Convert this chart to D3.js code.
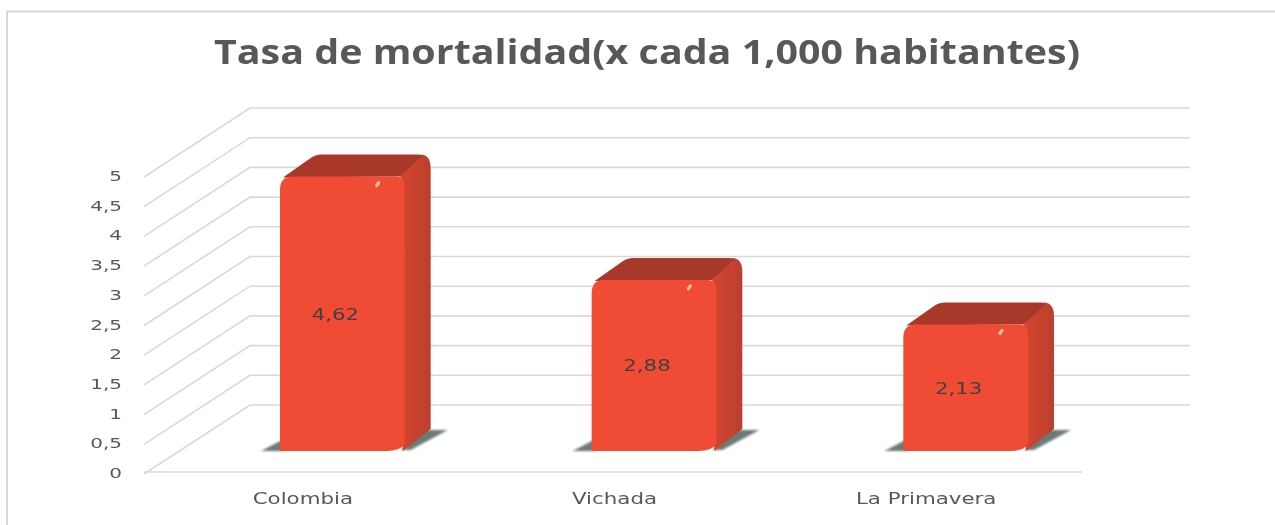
<!DOCTYPE html>
<html><head><meta charset="utf-8">
<script src="https://cdnjs.cloudflare.com/ajax/libs/d3/7.8.5/d3.min.js"></script>
<style>html,body{margin:0;background:#fff}svg{display:block}</style></head><body>
<svg id="c" width="1275" height="525"></svg>
<script>
const categories=["Colombia","Vichada","La Primavera"];
const values=[4.62,2.88,2.13];
const valueLabels=["4,62","2,88","2,13"];
const yTicks=[0,0.5,1,1.5,2,2.5,3,3.5,4,4.5,5];
const yTickLabels=["0","0,5","1","1,5","2","2,5","3","3,5","4","4,5","5"];
const titleText="Tasa de mortalidad(x cada 1,000 habitantes)";

const svg=d3.select("#c");
const F="'DejaVu Sans',sans-serif";
const y=d3.scaleLinear().domain([0,5]).range([472,175]);
const x=d3.scaleBand().domain(categories).range([147,1082]);
const depth={dx:103,dy:-67}, barOff={dx:39.5,dy:-21}, barSide={dx:26,dy:-22};
const barW=x.bandwidth()*0.4, r=13, wide=1.38;

const defs=svg.append("defs");
defs.append("filter").attr("id","soft").append("feGaussianBlur").attr("stdDeviation",1.2);
defs.append("filter").attr("id","soft2").append("feGaussianBlur").attr("stdDeviation",0.6);
const sg=defs.append("linearGradient").attr("id","side").attr("x1",0).attr("x2",1).attr("y1",0).attr("y2",0);
sg.append("stop").attr("offset",0).attr("stop-color","#d2452f");
sg.append("stop").attr("offset",1).attr("stop-color","#bb402d");

const root=svg.append("g").attr("filter","url(#soft2)");
root.append("path").attr("d","M7,525V11.5H1280").attr("fill","none").attr("stroke","#d6d6d6").attr("stroke-width",2);

const grid=root.append("g").attr("fill","none").attr("stroke","#d9d9d9").attr("stroke-width",1.6);
grid.selectAll("path").data(yTicks).join("path")
  .attr("d",d=>`M144,${y(d)+2}L${147+depth.dx},${y(d)+depth.dy}H1190`);
grid.append("path").attr("d",`M144,${y(0)}H1082`);

root.append("g").selectAll("text").data(yTicks).join("text")
  .attr("transform",d=>`translate(122,${y(d)+6}) scale(${wide},1)`).attr("text-anchor","end")
  .attr("font-family",F).attr("font-size",14.5).attr("fill","#595959")
  .text((d,i)=>yTickLabels[i]);

root.append("g").selectAll("text").data(categories).join("text")
  .attr("transform",d=>`translate(${x(d)+x.bandwidth()/2},504) scale(${wide},1)`).attr("text-anchor","middle")
  .attr("font-family",F).attr("font-size",15.5).attr("fill","#595959").text(d=>d);

const bars=root.append("g").selectAll("g").data(categories.map((c,i)=>({c,v:values[i],l:valueLabels[i]}))).join("g");
const bx=d=>x(d.c)+x.bandwidth()/2+barOff.dx-barW/2;
const by0=()=>y(0)+barOff.dy;
const byT=d=>y(d.v)+barOff.dy;

// floor shadow, left and right of the bar (the right part runs under the side face)
bars.append("path").attr("fill","#6a7a77").attr("filter","url(#soft)").attr("d",d=>{
  const l=bx(d),R=l+barW,b=by0(),s=barSide;
  return `M${l-19},${b}L${l+4},${b-12}V${b}Z M${R+s.dx-6},${b+s.dy+1}L${R+s.dx+17},${b+s.dy+1}L${R+6},${b-1}L${R-4},${b-1}Z`;
});
// side face
bars.append("path").attr("fill","url(#side)").attr("d",d=>{
  const R=bx(d)+barW,t=byT(d),b=by0(),s=barSide;
  return `M${R-4},${t}L${R+s.dx-9},${t+s.dy}Q${R+s.dx},${t+s.dy+1} ${R+s.dx},${t+s.dy+14}V${b+s.dy}L${R-2},${b}Z`;
});
// top face
bars.append("path").attr("fill","#a7382b").attr("d",d=>{
  const l=bx(d),R=l+barW,t=byT(d),s=barSide;
  return `M${l+3},${t+1}L${l+30},${t+s.dy+4}Q${l+35},${t+s.dy} ${l+42},${t+s.dy}H${R+s.dx-14}Q${R+s.dx-9},${t+s.dy} ${R+s.dx-8},${t+s.dy+1}L${R-4},${t}Z`;
});
// front face
bars.append("path").attr("fill","#f04c34").attr("d",d=>{
  const l=bx(d),t=byT(d),b=by0(),R=l+barW;
  return `M${l},${b}V${t+r}Q${l},${t} ${l+r},${t}H${R-8}Q${R},${t} ${R},${t+10}V${b-7}Q${R-4},${b} ${R-18},${b}Z`;
});
// highlight
bars.append("path").attr("stroke","#f4bd9f").attr("stroke-width",3.2).attr("stroke-linecap","round").attr("fill","none")
  .attr("d",d=>{const X=bx(d)+barW-28,t=byT(d);return `M${X},${t+9}L${X+2},${t+6}`;});
bars.append("text").attr("transform",d=>`translate(${bx(d)+barW/2-7},${(byT(d)+by0())/2+6}) scale(1.33,1)`)
  .attr("text-anchor","middle").attr("font-family",F).attr("font-size",16).attr("fill","#404040").text(d=>d.l);

root.append("text").attr("x",647).attr("y",64).attr("text-anchor","middle")
  .attr("font-family","'Open Sans',sans-serif").attr("font-weight",700).attr("font-size",33.5).attr("fill","#595959")
  .attr("textLength",866).attr("lengthAdjust","spacingAndGlyphs").text(titleText);
</script></body></html>
